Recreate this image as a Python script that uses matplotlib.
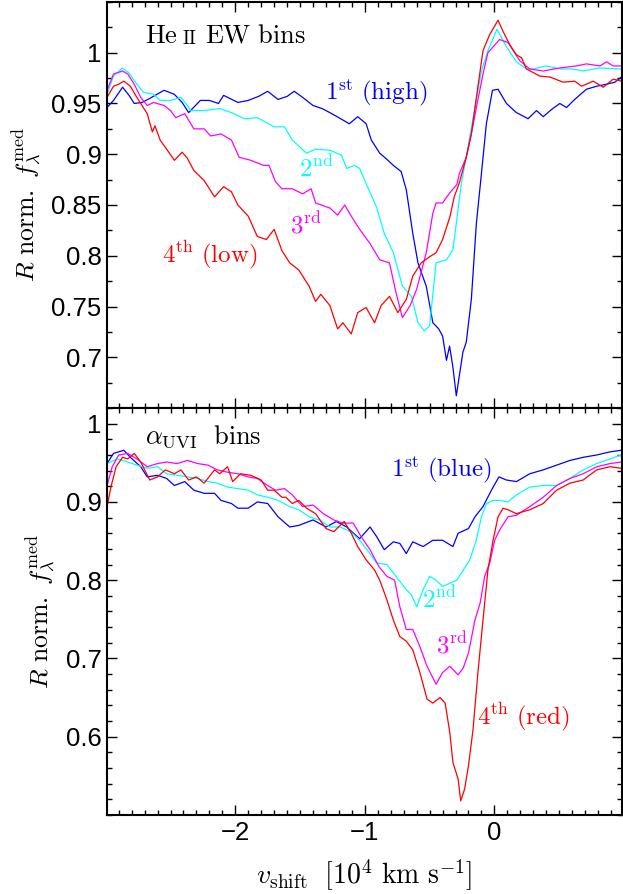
import matplotlib
matplotlib.use("Agg")
import matplotlib.pyplot as plt
from matplotlib.ticker import MultipleLocator, FormatStrFormatter, FixedLocator

plt.rcParams['font.family'] = ['Liberation Sans', 'DejaVu Sans']
plt.rcParams['mathtext.fontset'] = 'cm'

# He II EW bins (top panel)
he_x1 = [-2.99, -2.94, -2.87, -2.82, -2.78, -2.72, -2.66, -2.55, -2.47, -2.41, -2.36, -2.27, -2.20,
         -2.13, -2.09, -1.98, -1.90, -1.82, -1.75, -1.67, -1.60, -1.545, -1.48, -1.40, -1.33, -1.27,
         -1.20, -1.12, -1.055, -0.99, -0.95, -0.885, -0.83, -0.78, -0.72, -0.68, -0.63, -0.59, -0.526,
         -0.475, -0.43, -0.40, -0.37, -0.346, -0.32, -0.294, -0.243, -0.217, -0.178, -0.139, -0.10,
         -0.062, -0.015, 0.028, 0.093, 0.17, 0.26, 0.325, 0.377, 0.44, 0.505, 0.557, 0.62, 0.71, 0.79,
         0.866, 0.93, 0.98]
he_y1 = [0.946, 0.953, 0.966, 0.958, 0.950, 0.951, 0.955, 0.963, 0.959, 0.951, 0.941, 0.953, 0.953,
         0.950, 0.958, 0.951, 0.953, 0.957, 0.962, 0.954, 0.957, 0.962, 0.956, 0.948, 0.945, 0.941,
         0.936, 0.930, 0.937, 0.930, 0.914, 0.901, 0.895, 0.889, 0.883, 0.865, 0.822, 0.793, 0.770,
         0.734, 0.728, 0.721, 0.697, 0.711, 0.690, 0.662, 0.705, 0.715, 0.757, 0.832, 0.881,
         0.930, 0.963, 0.964, 0.950, 0.941, 0.935, 0.943, 0.937, 0.944, 0.950, 0.946, 0.954, 0.964, 0.967,
         0.969, 0.971, 0.976]

he_x2 = [-2.99, -2.94, -2.87, -2.82, -2.76, -2.71, -2.63, -2.58, -2.50, -2.42, -2.34, -2.24, -2.12,
         -2.03, -1.93, -1.83, -1.70, -1.62, -1.56, -1.45, -1.38, -1.27, -1.18, -1.14, -1.08, -1.04,
         -0.99, -0.91, -0.85, -0.78, -0.71, -0.64, -0.59, -0.54, -0.50, -0.45, -0.37, -0.32, -0.31,
         -0.255, -0.20, -0.15, -0.10, -0.05, 0.02, 0.093, 0.17, 0.247, 0.30, 0.40, 0.505, 0.60, 0.685,
         0.81, 0.98]
he_y2 = [0.959, 0.977, 0.985, 0.980, 0.969, 0.961, 0.959, 0.953, 0.953, 0.956, 0.943, 0.943, 0.945,
         0.941, 0.935, 0.936, 0.927, 0.927, 0.914, 0.901, 0.905, 0.904, 0.899, 0.886, 0.889, 0.886,
         0.871, 0.848, 0.822, 0.803, 0.770, 0.760, 0.734, 0.726, 0.731, 0.793, 0.796, 0.806, 0.816,
         0.871, 0.910, 0.946, 0.982, 1.002, 1.023, 1.006, 0.991, 0.984, 0.984, 0.987, 0.984, 0.984, 0.982,
         0.985, 0.984]

he_x3 = [-2.99, -2.94, -2.87, -2.83, -2.78, -2.73, -2.68, -2.63, -2.55, -2.50, -2.46, -2.39, -2.32,
         -2.24, -2.19, -2.11, -2.03, -1.97, -1.88, -1.78, -1.74, -1.69, -1.64, -1.56, -1.48, -1.415,
         -1.38, -1.27, -1.21, -1.155, -1.105, -1.04, -0.96, -0.885, -0.81, -0.76, -0.71, -0.65, -0.60,
         -0.526, -0.475, -0.45, -0.40, -0.344, -0.29, -0.27, -0.217, -0.178, -0.139, -0.088, -0.05,
         0.04, 0.105, 0.196, 0.273, 0.377, 0.505, 0.634, 0.71, 0.815, 0.866, 0.917, 0.98]
he_y3 = [0.963, 0.979, 0.982, 0.979, 0.969, 0.956, 0.948, 0.951, 0.948, 0.943, 0.936, 0.940, 0.925,
         0.925, 0.918, 0.920, 0.914, 0.897, 0.894, 0.889, 0.889, 0.873, 0.866, 0.866, 0.861, 0.866,
         0.852, 0.847, 0.840, 0.850, 0.839, 0.826, 0.812, 0.796, 0.793, 0.764, 0.739, 0.751, 0.767,
         0.803, 0.842, 0.852, 0.852, 0.862, 0.870, 0.881, 0.897, 0.920, 0.946, 0.979, 1.000,
         1.013, 1.010, 0.992, 0.984, 0.982, 0.985, 0.987, 0.989, 0.987, 0.991, 0.987, 0.987]

he_x4 = [-2.99, -2.94, -2.90, -2.86, -2.81, -2.76, -2.72, -2.68, -2.64, -2.62, -2.58, -2.53, -2.47,
         -2.41, -2.37, -2.32, -2.24, -2.16, -2.09, -2.03, -1.98, -1.90, -1.83, -1.76, -1.70, -1.64,
         -1.58, -1.51, -1.43, -1.38, -1.34, -1.27, -1.21, -1.17, -1.105, -1.055, -0.99, -0.925, -0.874,
         -0.81, -0.745, -0.68, -0.63, -0.565, -0.50, -0.45, -0.40, -0.344, -0.31, -0.27, -0.217, -0.178,
         -0.139, -0.088, -0.036, 0.028, 0.067, 0.118, 0.17, 0.21, 0.247, 0.35, 0.43, 0.53, 0.62, 0.673,
         0.763, 0.84, 0.917, 0.98]
he_y4 = [0.956, 0.967, 0.969, 0.972, 0.967, 0.956, 0.948, 0.940, 0.922, 0.928, 0.914, 0.905, 0.894,
         0.902, 0.896, 0.884, 0.874, 0.858, 0.868, 0.863, 0.850, 0.839, 0.819, 0.816, 0.826, 0.805,
         0.793, 0.786, 0.770, 0.755, 0.762, 0.751, 0.728, 0.734, 0.723, 0.744, 0.749, 0.734, 0.751,
         0.760, 0.744, 0.757, 0.780, 0.793, 0.799, 0.803, 0.816, 0.838, 0.858, 0.872, 0.897, 0.920,
         0.956, 1.002, 1.018, 1.032, 1.021, 1.008, 0.998, 0.995, 0.984, 0.977, 0.976, 0.971, 0.972, 0.967,
         0.972, 0.966, 0.974, 0.972]

# alpha_UVI bins (bottom panel)
uv_x1 = [-2.99, -2.94, -2.86, -2.81, -2.73, -2.68, -2.60, -2.53, -2.47, -2.39, -2.32, -2.24, -2.16,
         -2.11, -2.03, -1.98, -1.90, -1.83, -1.75, -1.67, -1.58, -1.51, -1.40, -1.30, -1.22, -1.14,
         -1.04, -0.96, -0.91, -0.85, -0.78, -0.73, -0.68, -0.63, -0.55, -0.475, -0.40, -0.32, -0.28,
         -0.20, -0.15, -0.088, -0.023, 0.035, 0.093, 0.17, 0.273, 0.377, 0.48, 0.583, 0.685, 0.79,
         0.893, 0.98]
uv_y1 = [0.949, 0.962, 0.966, 0.957, 0.945, 0.932, 0.934, 0.930, 0.921, 0.926, 0.915, 0.911, 0.911,
         0.902, 0.898, 0.892, 0.892, 0.900, 0.898, 0.881, 0.868, 0.870, 0.877, 0.868, 0.875, 0.868,
         0.853, 0.868, 0.856, 0.839, 0.849, 0.847, 0.834, 0.849, 0.843, 0.851, 0.851, 0.843, 0.860,
         0.866, 0.881, 0.894, 0.915, 0.932, 0.928, 0.926, 0.936, 0.941, 0.947, 0.953, 0.957, 0.960,
         0.964, 0.966]

uv_x2 = [-2.99, -2.91, -2.83, -2.76, -2.68, -2.60, -2.53, -2.45, -2.37, -2.29, -2.21, -2.14, -2.06,
         -1.98, -1.90, -1.83, -1.75, -1.67, -1.58, -1.51, -1.43, -1.35, -1.27, -1.19, -1.11, -1.04,
         -0.97, -0.91, -0.83, -0.76, -0.68, -0.64, -0.60, -0.55, -0.50, -0.45, -0.40, -0.344, -0.29,
         -0.24, -0.19, -0.14, -0.10, -0.06, -0.01, 0.04, 0.105, 0.17, 0.273, 0.377, 0.48, 0.583, 0.685,
         0.79, 0.893, 0.98]
uv_y2 = [0.949, 0.955, 0.951, 0.947, 0.943, 0.945, 0.936, 0.934, 0.932, 0.930, 0.926, 0.924, 0.919,
         0.917, 0.915, 0.909, 0.906, 0.902, 0.894, 0.890, 0.881, 0.877, 0.868, 0.868, 0.862, 0.851,
         0.836, 0.822, 0.820, 0.805, 0.788, 0.781, 0.766, 0.788, 0.805, 0.800, 0.792, 0.796, 0.800,
         0.813, 0.826, 0.851, 0.881, 0.898, 0.902, 0.902, 0.900, 0.909, 0.919, 0.921, 0.921, 0.930, 0.941,
         0.949, 0.955, 0.960]

uv_x3 = [-2.99, -2.95, -2.90, -2.83, -2.76, -2.68, -2.60, -2.53, -2.45, -2.37, -2.29, -2.21, -2.14,
         -2.06, -1.98, -1.90, -1.83, -1.75, -1.69, -1.62, -1.56, -1.48, -1.40, -1.32, -1.24, -1.17,
         -1.09, -1.03, -0.96, -0.89, -0.83, -0.77, -0.73, -0.68, -0.63, -0.575, -0.52, -0.45, -0.40,
         -0.344, -0.28, -0.24, -0.20, -0.15, -0.11, -0.075, -0.036, 0.002, 0.04, 0.105, 0.17, 0.273,
         0.377, 0.48, 0.583, 0.685, 0.79, 0.893, 0.98]
uv_y3 = [0.921, 0.945, 0.960, 0.962, 0.955, 0.945, 0.949, 0.951, 0.949, 0.953, 0.949, 0.947, 0.941,
         0.938, 0.936, 0.932, 0.930, 0.921, 0.915, 0.917, 0.909, 0.894, 0.896, 0.885, 0.877, 0.873,
         0.873, 0.856, 0.839, 0.817, 0.805, 0.800, 0.766, 0.737, 0.737, 0.715, 0.690, 0.667, 0.682,
         0.690, 0.679, 0.688, 0.707, 0.749, 0.771, 0.805, 0.822, 0.851, 0.864, 0.881, 0.883, 0.894,
         0.906, 0.921, 0.930, 0.936, 0.945, 0.949, 0.951]

uv_x4 = [-2.99, -2.96, -2.92, -2.87, -2.83, -2.78, -2.73, -2.66, -2.60, -2.54, -2.47, -2.42, -2.36,
         -2.30, -2.24, -2.16, -2.12, -2.06, -2.02, -1.96, -1.88, -1.80, -1.75, -1.70, -1.64, -1.61,
         -1.56, -1.51, -1.45, -1.38, -1.30, -1.24, -1.16, -1.105, -1.055, -0.99, -0.925, -0.885, -0.83,
         -0.78, -0.73, -0.68, -0.63, -0.575, -0.52, -0.475, -0.42, -0.38, -0.344, -0.32, -0.28, -0.26,
         -0.23, -0.20, -0.165, -0.127, -0.088, -0.05, -0.01, 0.028, 0.067, 0.105, 0.17, 0.273, 0.377,
         0.48, 0.583, 0.685, 0.79, 0.893, 0.98]
uv_y4 = [0.894, 0.919, 0.945, 0.957, 0.955, 0.962, 0.951, 0.928, 0.932, 0.941, 0.936, 0.941, 0.928,
         0.932, 0.924, 0.941, 0.936, 0.945, 0.926, 0.936, 0.934, 0.928, 0.915, 0.915, 0.906, 0.906,
         0.898, 0.902, 0.892, 0.885, 0.866, 0.862, 0.875, 0.860, 0.843, 0.826, 0.813, 0.800, 0.775,
         0.749, 0.728, 0.722, 0.711, 0.682, 0.648, 0.643, 0.650, 0.643, 0.605, 0.567, 0.546, 0.518,
         0.533, 0.563, 0.609, 0.682, 0.749, 0.813, 0.851, 0.881, 0.892, 0.890, 0.885, 0.890, 0.898,
         0.915, 0.924, 0.928, 0.941, 0.945, 0.943]

top_ticks = [0.7, 0.75, 0.8, 0.85, 0.9, 0.95, 1.0]
bot_ticks = [0.6, 0.7, 0.8, 0.9, 1.0]
colors = ['#0000ff', '#00ffff', '#ff00ff', '#ff0000']

fig = plt.figure(figsize=(6.23, 8.94), dpi=100)
ax1 = fig.add_axes([0.1718, 0.5436, 0.8266, 0.4542])
ax2 = fig.add_axes([0.1718, 0.0884, 0.8266, 0.4552])

for xs, ys, c in zip([he_x1, he_x2, he_x3, he_x4], [he_y1, he_y2, he_y3, he_y4], colors):
    ax1.plot(xs, ys, color=c, lw=0.9)
for xs, ys, c in zip([uv_x1, uv_x2, uv_x3, uv_x4], [uv_y1, uv_y2, uv_y3, uv_y4], colors):
    ax2.plot(xs, ys, color=c, lw=0.9)

for ax in (ax1, ax2):
    ax.set_xlim(-2.99, 0.985)
    ax.xaxis.set_major_locator(MultipleLocator(1))
    ax.xaxis.set_minor_locator(MultipleLocator(0.1))
    ax.tick_params(which='both', direction='in', top=True, right=True, width=1.0)
    ax.tick_params(which='major', length=7, labelsize=18.5, pad=4)
    ax.tick_params(which='minor', length=3.5)
    ax.yaxis.set_major_formatter(FormatStrFormatter('%g'))
    for s in ax.spines.values():
        s.set_linewidth(1.5)
    ax.set_ylabel(r'$R\ \mathrm{norm.}\ f_\lambda^{\rm med}$', fontsize=18.5, labelpad=6)

ax1.set_ylim(0.65, 1.05)
ax1.yaxis.set_major_locator(FixedLocator(top_ticks))
ax1.yaxis.set_minor_locator(MultipleLocator(0.025))
ax1.tick_params(labelbottom=False)

ax2.set_ylim(0.5, 1.02)
ax2.yaxis.set_major_locator(FixedLocator(bot_ticks))
ax2.yaxis.set_minor_locator(MultipleLocator(0.02))
ax2.set_xlabel(r'$v_{\rm shift}\ \ [10^4\ \mathrm{km\ s^{-1}}]$', fontsize=20, labelpad=9)

# panel titles
t = ax1.text(-2.70, 1.0098, r'$\mathrm{He}$', fontsize=19, va='baseline', ha='left')
t2 = ax1.annotate(r'$\mathrm{II}$', xy=(1, 0), xycoords=t, xytext=(3, 0),
                  textcoords='offset points', fontsize=13.5, va='bottom')
ax1.annotate(r'$\mathrm{EW\ bins}$', xy=(1, 0), xycoords=t2, xytext=(6, 0),
             textcoords='offset points', fontsize=19, va='bottom')
ax2.text(-2.70, 0.983, r'$\alpha_{\rm UVI}\ \ \mathrm{bins}$', fontsize=19, va='center', ha='left')

# curve labels
ax1.text(-0.915, 0.960, r'$\mathrm{1^{st}\ (high)}$', color=colors[0], fontsize=18, ha='center', va='center')
ax1.text(-1.374, 0.886, r'$\mathrm{2^{nd}}$', color=colors[1], fontsize=18, ha='center', va='center')
ax1.text(-1.454, 0.830, r'$\mathrm{3^{rd}}$', color=colors[2], fontsize=18, ha='center', va='center')
ax1.text(-2.196, 0.801, r'$\mathrm{4^{th}\ (low)}$', color=colors[3], fontsize=18, ha='center', va='center')

ax2.text(-0.41, 0.9405, r'$\mathrm{1^{st}\ (blue)}$', color=colors[0], fontsize=18, ha='center', va='center')
ax2.text(-0.423, 0.775, r'$\mathrm{2^{nd}}$', color=colors[1], fontsize=18, ha='center', va='center')
ax2.text(-0.33, 0.718, r'$\mathrm{3^{rd}}$', color=colors[2], fontsize=18, ha='center', va='center')
ax2.text(0.224, 0.625, r'$\mathrm{4^{th}\ (red)}$', color=colors[3], fontsize=18, ha='center', va='center')

fig.savefig('out.png', dpi=100)
